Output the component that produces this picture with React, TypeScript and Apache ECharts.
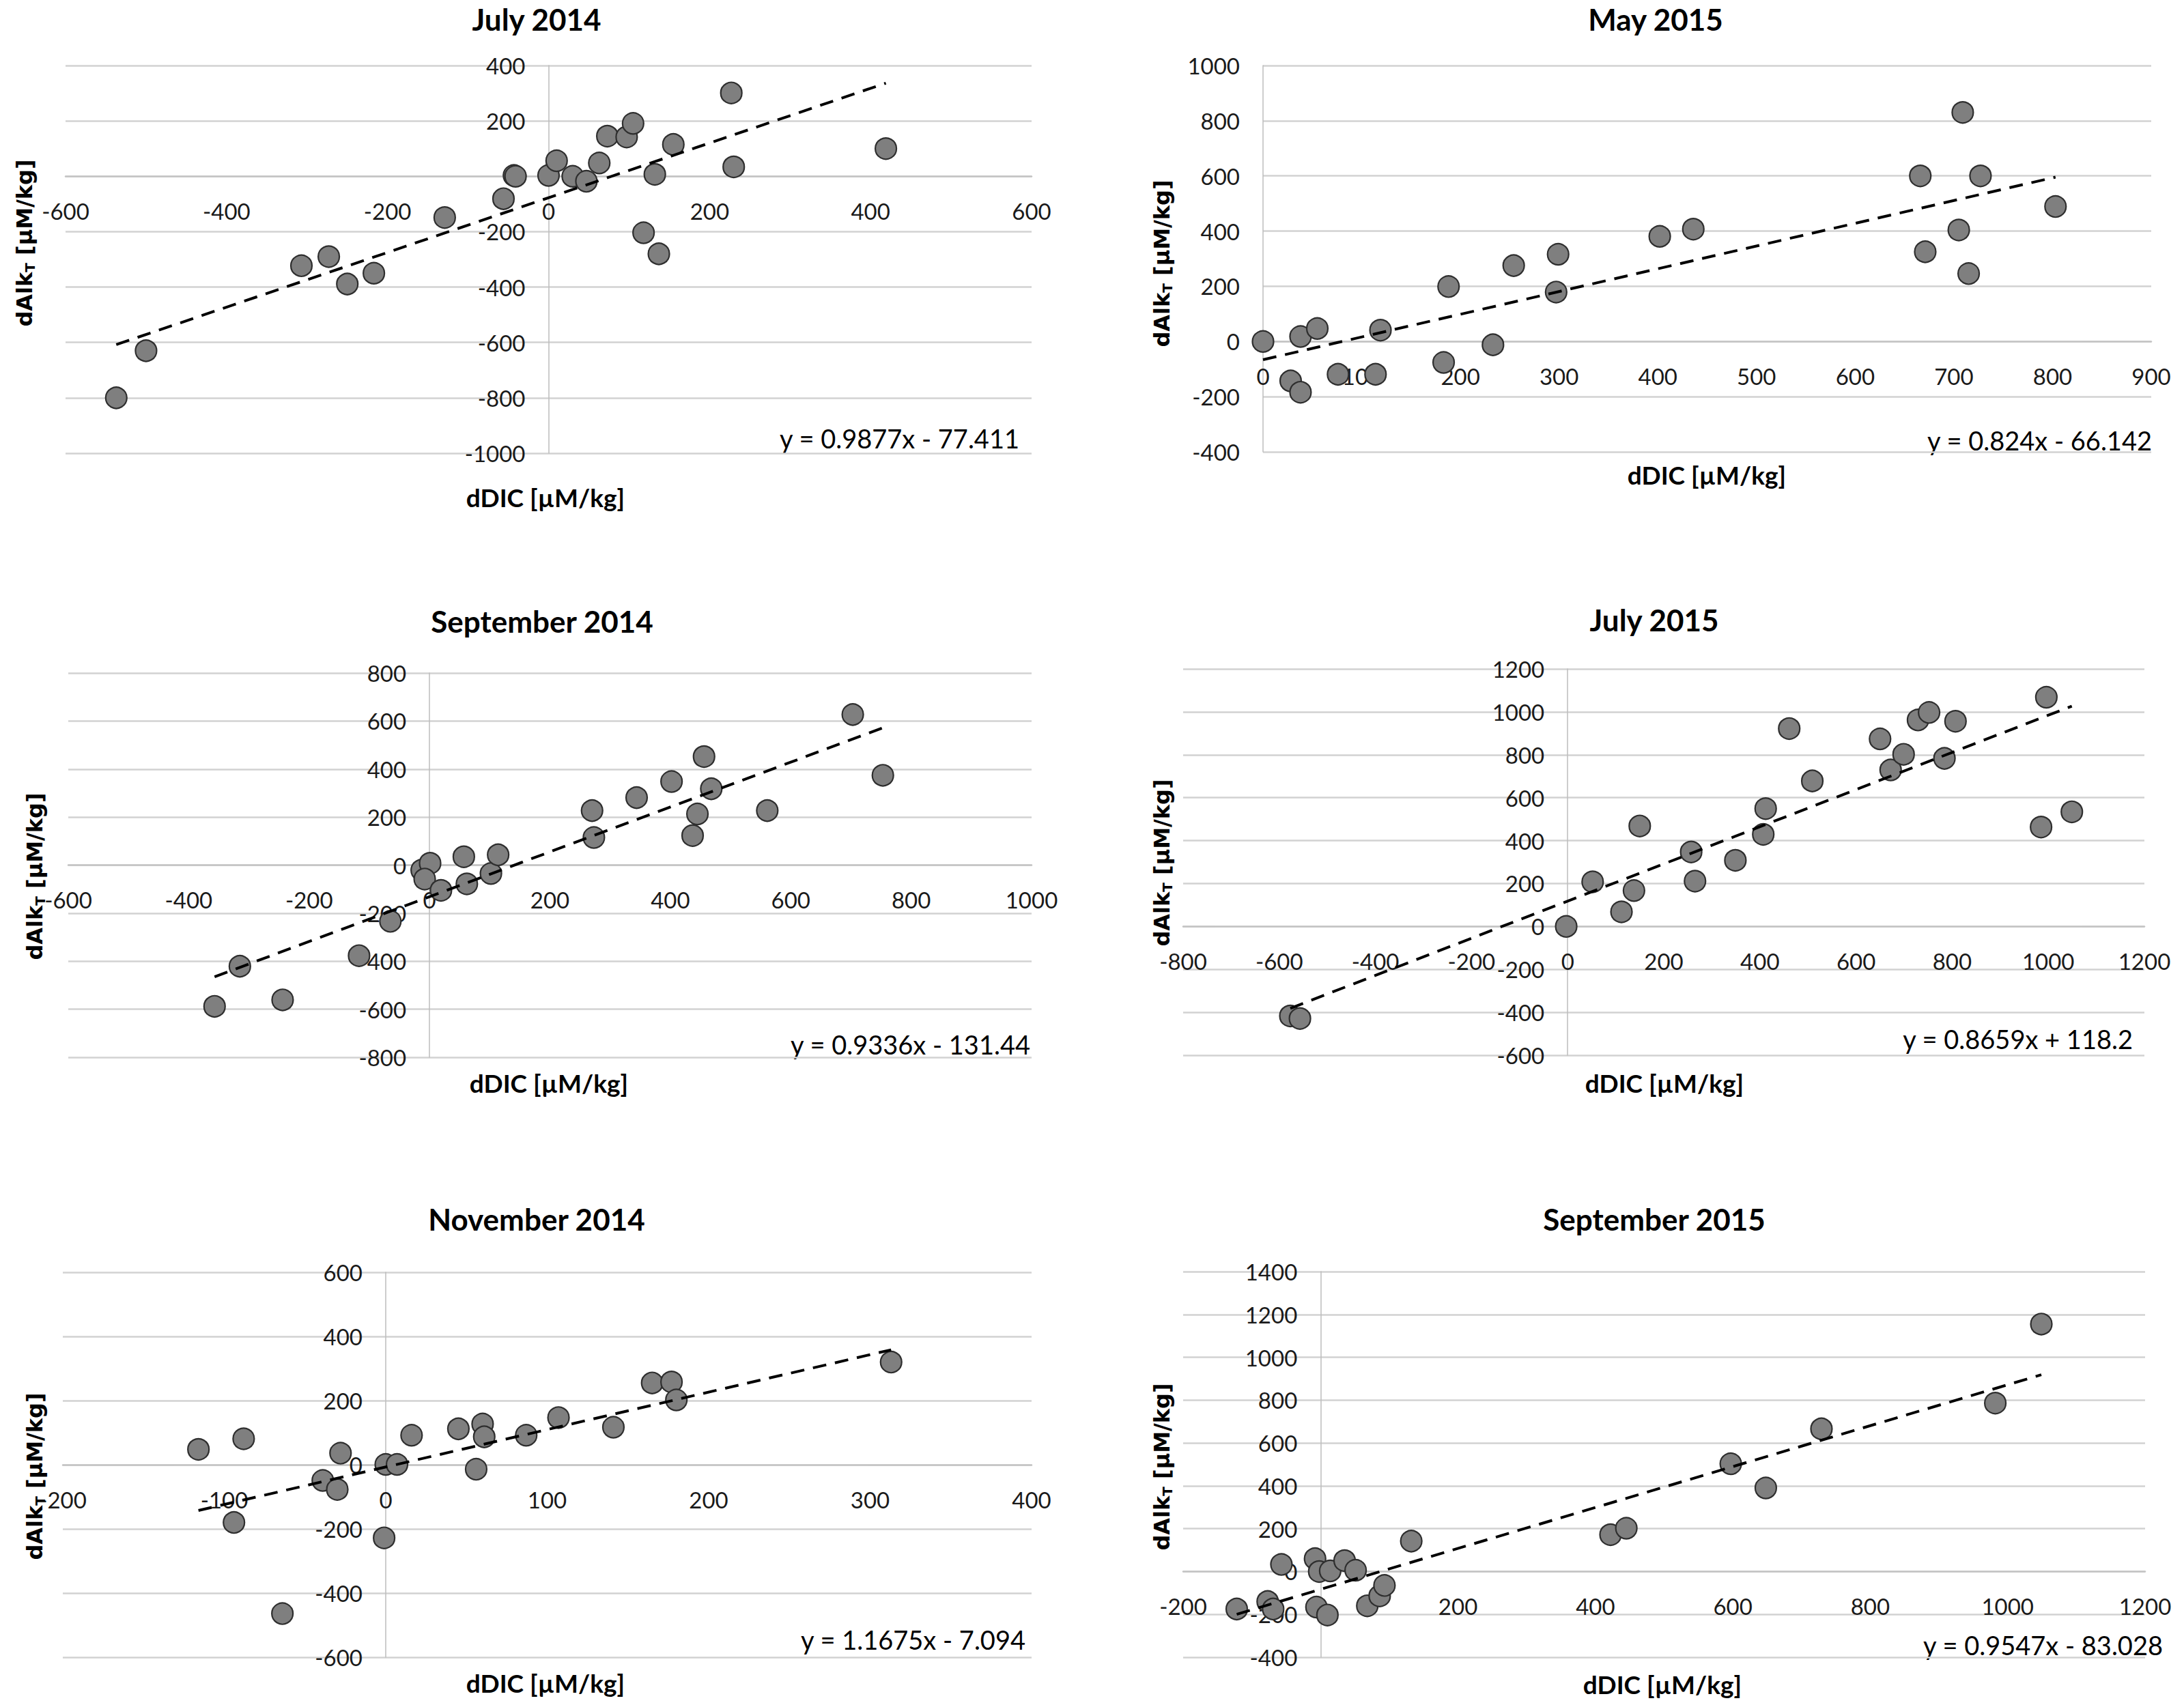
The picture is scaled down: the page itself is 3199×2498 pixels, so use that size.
import React, { useEffect, useRef } from "react";
import * as echarts from "echarts";

// ---------- data ----------
const titles = ["July 2014", "May 2015", "September 2014", "July 2015", "November 2014", "September 2015"];

const jul14X = [-537, -500, -307, -273, -250, -217, -129, -56, -43, -41, 0, 10, 30, 47, 63, 73, 97, 105, 118, 132, 137, 155, 227, 230, 419];
const jul14Y = [-800, -630, -323, -290, -389, -350, -149, -81, 3, 0, 3, 56, 0, -18, 48, 145, 142, 191, -204, 7, -280, 115, 301, 34, 100];

const may15X = [0, 28, 38, 38, 55, 76, 114, 119, 183, 188, 233, 254, 297, 299, 402, 436, 666, 671, 705, 709, 715, 727, 803];
const may15Y = [0, -143, 18, -184, 47, -119, -119, 41, -76, 199, -12, 275, 179, 316, 381, 407, 600, 325, 404, 830, 246, 600, 489];

const sep14X = [-357, -315, -244, -117, -65, -13, 1, -8, 19, 57, 62, 102, 114, 270, 273, 344, 402, 437, 445, 456, 468, 561, 703, 753];
const sep14Y = [-588, -421, -561, -377, -234, -21, 8, -58, -105, 35, -78, -35, 43, 227, 115, 281, 348, 123, 213, 452, 318, 227, 627, 374];

const jul15X = [-577, -557, -3, 52, 112, 138, 150, 257, 265, 349, 407, 412, 461, 509, 650, 672, 699, 729, 752, 784, 807, 985, 996, 1049];
const jul15Y = [-417, -429, 0, 208, 68, 167, 468, 347, 211, 308, 429, 549, 922, 678, 874, 729, 802, 962, 997, 783, 956, 463, 1068, 534];

const nov14X = [-116, -88, -94, -64, -39, -30, -28, 0, -1, 7, 16, 45, 56, 60, 61, 87, 107, 141, 165, 177, 180, 313];
const nov14Y = [48, 81, -180, -464, -49, -77, 36, 1, -228, 1, 92, 112, -14, 127, 87, 92, 147, 117, 255, 258, 202, 320];

const sep15X = [-122, -77, -69, -57, -8, -6, -2, 10, 14, 35, 51, 68, 86, 93, 132, 422, 445, 597, 648, 729, 982, 1049];
const sep15Y = [-175, -140, -175, 33, 60, -166, 0, -203, 3, 51, 6, -160, -114, -65, 142, 172, 202, 503, 390, 666, 786, 1155];

const slopes = [0.9877, 0.824, 0.9336, 0.8659, 1.1675, 0.9547];
const intercepts = [-77.411, -66.142, -131.44, 118.2, -7.094, -83.028];
const equations = ["y = 0.9877x - 77.411", "y = 0.824x - 66.142", "y = 0.9336x - 131.44", "y = 0.8659x + 118.2", "y = 1.1675x - 7.094", "y = 0.9547x - 83.028"];

const xMins = [-600, 0, -600, -800, -200, -200];
const xMaxs = [600, 900, 1000, 1200, 400, 1200];
const xSteps = [200, 100, 200, 200, 100, 200];
const yMins = [-1000, -400, -800, -600, -600, -400];
const yMaxs = [400, 1000, 800, 1200, 600, 1400];
const ySteps = [200, 200, 200, 200, 200, 200];

const xName = "dDIC [µM/kg]";

// ---------- layout ----------
const gridBoxes = [
  { left: 96, top: 96, width: 1415, height: 568 },
  { left: 1850, top: 96, width: 1301, height: 566 },
  { left: 100, top: 986, width: 1411, height: 563 },
  { left: 1733, top: 980, width: 1408, height: 566 },
  { left: 92, top: 1864, width: 1419, height: 564 },
  { left: 1733, top: 1863, width: 1409, height: 565 },
];
const titlePos = [[786, 28], [2425, 28], [794, 910], [2423, 908], [786, 1786], [2423, 1786]];
const xNamePos = [[799, 728], [2500, 695], [804, 1586], [2438, 1586], [799, 2465], [2435, 2467]];
const yNamePos = [[36, 356], [1702, 386], [51, 1284], [1702, 1264], [51, 2163], [1702, 2149]];
const eqPos = [[1493, 642], [3152, 645], [1509, 1530], [3124, 1522], [1502, 2402], [3168, 2410]];

const FONT = "Lato, 'Open Sans', sans-serif";
const YFONT = "'DejaVu Sans', Verdana, sans-serif";

export default function App() {
  const ref = useRef<HTMLDivElement>(null);
  useEffect(() => {
    if (!ref.current) return;
    const chart = echarts.init(ref.current, null, { renderer: "svg" });
    const xs = [jul14X, may15X, sep14X, jul15X, nov14X, sep15X];
    const ys = [jul14Y, may15Y, sep14Y, jul15Y, nov14Y, sep15Y];

    const grid = gridBoxes.map((g) => ({ ...g, containLabel: false }));
    const plain = (v: number) => String(v);

    const xAxis = xs.map((_, i) => {
      const g = gridBoxes[i];
      const zeroFromBottom = (g.height * (0 - yMins[i])) / (yMaxs[i] - yMins[i]);
      return {
        type: "value",
        gridIndex: i,
        position: "bottom",
        offset: -zeroFromBottom,
        min: xMins[i],
        max: xMaxs[i],
        interval: xSteps[i],
        axisLine: { show: true, onZero: false, lineStyle: { color: "#c4c4c4", width: 2.5 } },
        axisTick: { show: false },
        splitLine: { show: false },
        axisLabel: {
          show: true,
          fontSize: 33,
          fontFamily: FONT,
          color: "#1a1a1a",
          margin: 34,
          showMinLabel: true,
          showMaxLabel: true,
          formatter: plain,
        },
      };
    });
    const yAxis = ys.map((_, i) => {
      const g = gridBoxes[i];
      const zeroFromLeft = (g.width * (0 - xMins[i])) / (xMaxs[i] - xMins[i]);
      return {
        type: "value",
        gridIndex: i,
        position: "left",
        offset: -zeroFromLeft,
        min: yMins[i],
        max: yMaxs[i],
        interval: ySteps[i],
        axisLine: { show: true, onZero: false, lineStyle: { color: "#bdbdbd", width: 1.5 } },
        axisTick: { show: false },
        splitLine: { show: true, lineStyle: { color: "#d2d2d2", width: 2.5 } },
        axisLabel: {
          show: true,
          fontSize: 33,
          fontFamily: FONT,
          color: "#1a1a1a",
          margin: 34,
          showMinLabel: true,
          showMaxLabel: true,
          formatter: plain,
        },
      };
    });

    const series: any[] = [];
    xs.forEach((xArr, i) => {
      const yArr = ys[i];
      series.push({
        type: "scatter",
        xAxisIndex: i,
        yAxisIndex: i,
        symbol: "circle",
        symbolSize: 31,
        itemStyle: { color: "#7f7f7f", borderColor: "#2e2e2e", borderWidth: 2.2, opacity: 1 },
        data: xArr.map((x, k) => [x, yArr[k]]),
        z: 3,
      });
      const lo = Math.min(...xArr);
      const hi = Math.max(...xArr);
      series.push({
        type: "line",
        xAxisIndex: i,
        yAxisIndex: i,
        symbol: "none",
        showSymbol: false,
        lineStyle: { color: "#000000", width: 4, type: [20, 13] },
        data: [
          [lo, slopes[i] * lo + intercepts[i]],
          [hi, slopes[i] * hi + intercepts[i]],
        ],
        z: 4,
      });
    });

    const graphic: any[] = [];
    titles.forEach((t, i) => {
      graphic.push({
        type: "text",
        x: titlePos[i][0],
        y: titlePos[i][1],
        style: {
          text: t,
          fontSize: 44,
          fontWeight: "bold",
          fontFamily: FONT,
          fill: "#000",
          align: "center",
          verticalAlign: "middle",
        },
      });
      graphic.push({
        type: "text",
        x: xNamePos[i][0],
        y: xNamePos[i][1],
        style: {
          text: xName,
          fontSize: 37,
          fontWeight: "bold",
          fontFamily: FONT,
          fill: "#000",
          align: "center",
          verticalAlign: "middle",
        },
      });
      graphic.push({
        type: "text",
        x: eqPos[i][0],
        y: eqPos[i][1],
        style: {
          text: equations[i],
          fontSize: 38,
          fontFamily: FONT,
          fill: "#000",
          align: "right",
          verticalAlign: "middle",
        },
      });
      graphic.push({
        type: "text",
        x: yNamePos[i][0],
        y: yNamePos[i][1],
        rotation: Math.PI / 2,
        style: {
          text: "{a|dAlk}{s|T}{a| [µM/kg]}",
          align: "center",
          verticalAlign: "middle",
          rich: {
            a: { fontSize: 32, fontWeight: "bold", fontFamily: YFONT, fill: "#000", color: "#000", lineHeight: 36, verticalAlign: "middle" },
            s: { fontSize: 20, fontWeight: "bold", fontFamily: YFONT, fill: "#000", color: "#000", lineHeight: 20, verticalAlign: "bottom" },
          },
        },
      });
    });

    chart.setOption({
      animation: false,
      backgroundColor: "#ffffff",
      grid,
      xAxis,
      yAxis,
      series,
      graphic,
    });
    return () => chart.dispose();
  }, []);
  return (
    <div
      ref={ref}
      style={{ position: "fixed", left: 0, top: 0, width: 3199, height: 2498, background: "#fff" }}
    />
  );
}
